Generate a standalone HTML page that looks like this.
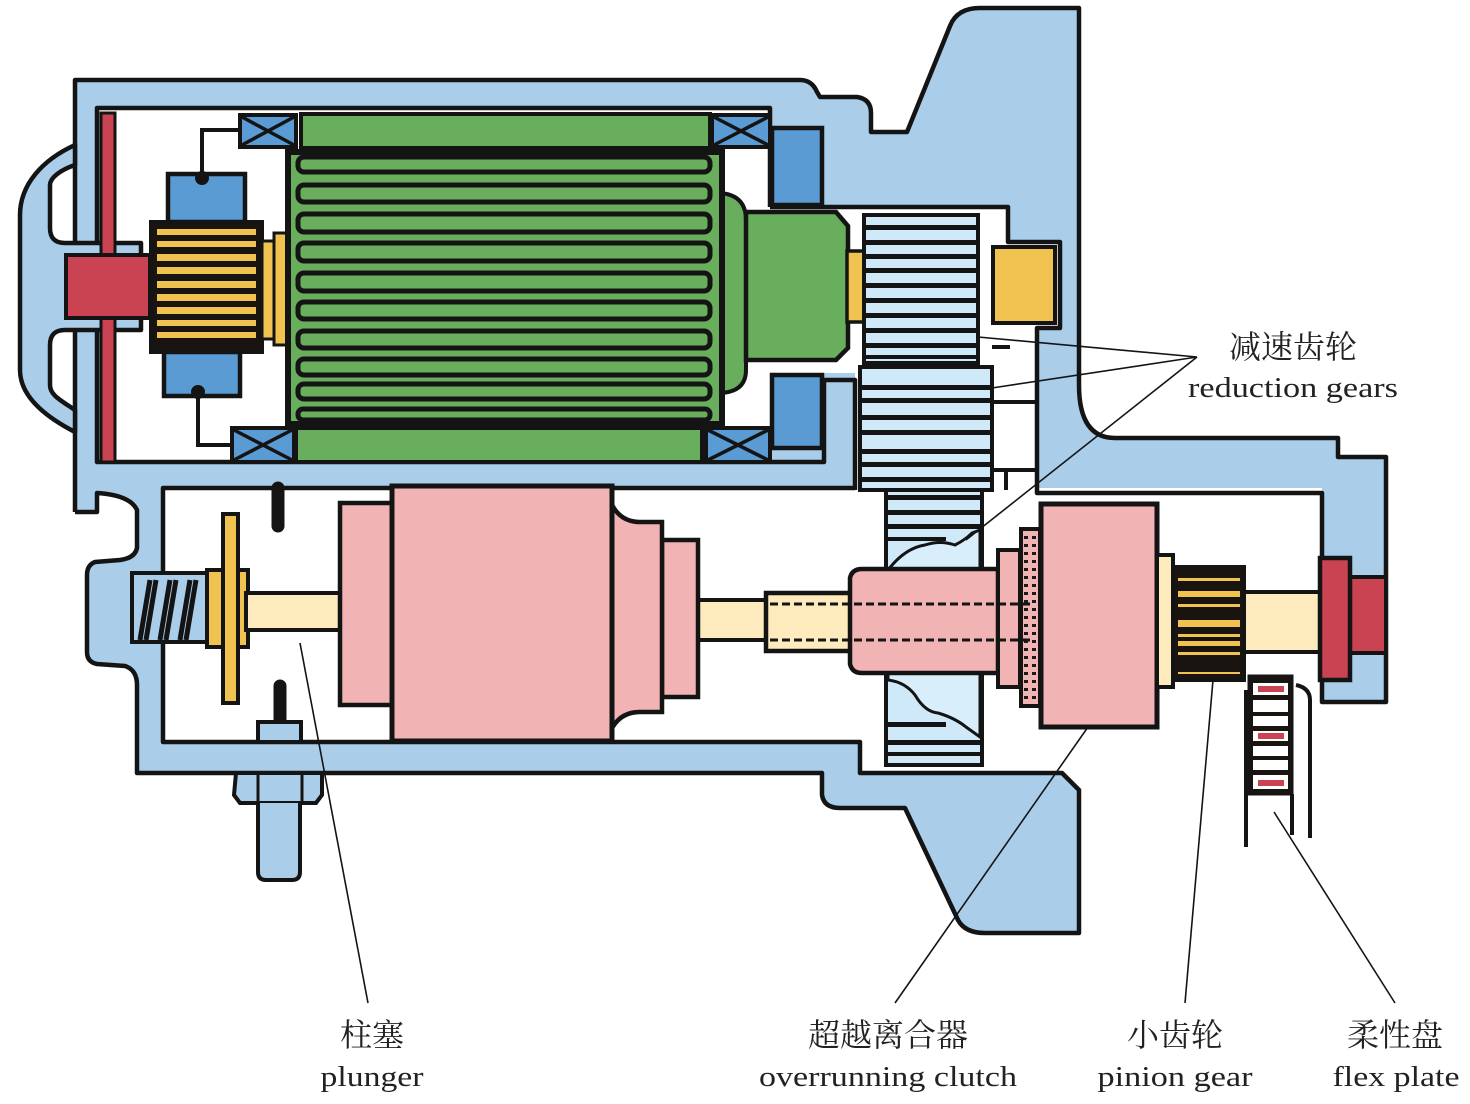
<!DOCTYPE html>
<html><head><meta charset="utf-8"><style>
html,body{margin:0;padding:0;background:#fff}
svg{display:block}
.t{font-family:"Liberation Serif","Noto Serif CJK SC",serif;fill:#222}
</style></head><body>
<svg width="1470" height="1104" viewBox="0 0 1470 1104" xmlns="http://www.w3.org/2000/svg">
<defs>
<pattern id="hatch" width="8" height="8" patternUnits="userSpaceOnUse">
<rect width="8" height="8" fill="#f1b3b3"/><rect x="0" y="0" width="4" height="3" fill="#1a1a1a"/>
</pattern>
</defs>
<path d="M75,80 L800,80 Q812,80 817,92 L820,97 L857,97 Q871,99 871,113 L871,132 L907,132 L950,26 Q957,8 980,8 L1079,8 L1079,385 Q1079,438 1115,438 L1338,438 L1338,457 L1386,457 L1386,702 L1322,702 L1322,493 L97,493 L97,512 L75,512 Z" fill="#aacdea"/>
<path d="M97,488 L860,488 L860,773 L1062,773 L1079,790 L1079,933 L985,933 Q965,933 958,920 L905,808 L840,808 Q824,808 822,795 L822,773 L137,773 L137,685 Q137,670 125,666 L97,664 Q87,662 87,652 L87,575 Q87,565 95,562 L120,560 Q135,558 137,548 L137,510 Q130,495 97,493 Z" fill="#aacdea"/>
<rect x="97" y="108" width="673" height="354" fill="#fff"/>
<rect x="770" y="207" width="85" height="166" fill="#fff"/>
<path d="M855,207 L1008,207 L1008,242 L1060,242 L1060,328 L1037,328 L1037,493 L855,493 Z" fill="#fff"/>
<rect x="163" y="488" width="697" height="254" fill="#fff"/>
<rect x="860" y="488" width="462" height="285" fill="#fff"/>
<g fill="none" stroke="#141414" stroke-width="4.5" stroke-linejoin="round">
<path d="M75,512 L75,80 L800,80 Q812,80 817,92 L820,97 L857,97 Q871,99 871,113 L871,132 L907,132 L950,26 Q957,8 980,8 L1079,8 L1079,385 Q1079,438 1115,438 L1338,438 L1338,457 L1386,457 L1386,702 L1322,702 L1322,493 L1037,493 L1037,328 L1060,328 L1060,242 L1008,242 L1008,207 L770,207"/>
<path d="M770,207 L770,108 L97,108 L97,462 L824,462 L824,380 L855,380 L855,490"/>
<path d="M75,512 L97,512 L97,493 Q130,495 137,510 L137,548 Q135,558 120,560 L95,562 Q87,565 87,575 L87,652 Q87,662 97,664 L125,666 Q137,670 137,685 L137,773 L822,773 L822,795 Q824,808 840,808 L905,808 L958,920 Q965,933 985,933 L1079,933 L1079,790 L1062,773 L860,773 L860,742 L163,742 L163,488 L855,488"/>
</g>
<!-- dark blue blocks right of motor -->
<rect x="772" y="128" width="50" height="77" fill="#5a9bd3" stroke="#141414" stroke-width="4.5"/>
<rect x="772" y="375" width="50" height="73" fill="#5a9bd3" stroke="#141414" stroke-width="4.5"/>
<path d="M75,145 C42,160 20,185 20,215 L20,370 C20,395 42,415 75,432 L75,410 C60,400 50,395 50,385 L50,345 C50,335 55,330 65,330 L141,330 L141,243 L65,243 C55,243 50,238 50,228 L50,185 C50,178 60,170 75,165 Z" fill="#aacdea" stroke="#141414" stroke-width="4.5" stroke-linejoin="round"/>
<rect x="101" y="113" width="14" height="349" fill="#c94352" stroke="#141414" stroke-width="3"/>
<rect x="66" y="255" width="84" height="63" fill="#c94352" stroke="#141414" stroke-width="4"/>
<g fill="none" stroke="#141414" stroke-width="4">
<path d="M202,178 L202,130 L240,130"/><path d="M198,392 L198,445 L232,445"/>
</g>
<rect x="168" y="174" width="77" height="48" fill="#5a9bd3" stroke="#141414" stroke-width="4.5"/>
<rect x="164" y="352" width="76" height="44" fill="#5a9bd3" stroke="#141414" stroke-width="4.5"/>
<circle cx="202" cy="178" r="7" fill="#141414"/><circle cx="198" cy="392" r="7" fill="#141414"/>
<rect x="151" y="222" width="111" height="130" fill="#1a1410" stroke="#141414" stroke-width="4"/>
<g fill="#f0c350">
<rect x="157" y="229" width="99" height="6"/><rect x="157" y="241" width="99" height="6"/><rect x="157" y="254" width="99" height="7"/><rect x="157" y="267" width="99" height="7"/><rect x="157" y="281" width="99" height="7"/><rect x="157" y="294" width="99" height="7"/><rect x="157" y="307" width="99" height="7"/><rect x="157" y="320" width="99" height="6"/><rect x="157" y="332" width="99" height="6"/>
</g>
<rect x="262" y="241" width="12" height="98" fill="#f0c350" stroke="#141414" stroke-width="3"/>
<rect x="274" y="233" width="13" height="112" fill="#f0c350" stroke="#141414" stroke-width="3"/>
<g stroke="#141414" stroke-width="4" fill="#5a9bd3">
<rect x="240" y="115" width="56" height="32"/><rect x="232" y="428" width="62" height="34"/>
<rect x="712" y="115" width="58" height="32"/><rect x="706" y="428" width="64" height="34"/>
</g>
<g stroke="#141414" stroke-width="3.5">
<path d="M242,117 L294,145 M294,117 L242,145"/><path d="M234,430 L292,460 M292,430 L234,460"/>
<path d="M714,117 L768,145 M768,117 L714,145"/><path d="M708,430 L768,460 M768,430 L708,460"/>
</g>
<rect x="301" y="114" width="409" height="34" fill="#68ae5c" stroke="#141414" stroke-width="4"/>
<rect x="296" y="428" width="406" height="34" fill="#68ae5c" stroke="#141414" stroke-width="4"/>
<path d="M720,193 Q746,195 746,220 L746,370 Q746,392 720,393 Z" fill="#68ae5c" stroke="#141414" stroke-width="4"/>
<path d="M746,212 L836,212 L848,226 L848,348 L836,360 L746,360 Z" fill="#68ae5c" stroke="#141414" stroke-width="4.5"/>
<rect x="288" y="152" width="434" height="272" fill="#68ae5c" stroke="#141414" stroke-width="6"/>
<g fill="#68ae5c" stroke="#141414" stroke-width="5">
<rect x="298" y="157" width="412" height="15" rx="6"/>
<rect x="298" y="185" width="412" height="17" rx="6"/>
<rect x="298" y="214" width="412" height="18" rx="6"/>
<rect x="298" y="243" width="412" height="18" rx="6"/>
<rect x="298" y="273" width="412" height="18" rx="6"/>
<rect x="298" y="302" width="412" height="17" rx="6"/>
<rect x="298" y="331" width="412" height="17" rx="6"/>
<rect x="298" y="359" width="412" height="16" rx="6"/>
<rect x="298" y="384" width="412" height="15" rx="6"/>
<rect x="298" y="409" width="412" height="11" rx="5"/>
</g>
<rect x="847" y="251" width="18" height="71" fill="#f0c350" stroke="#141414" stroke-width="3.5"/>
<rect x="993" y="247" width="62" height="76" fill="#f0c350" stroke="#141414" stroke-width="4"/>
<g stroke="#141414" stroke-width="4">
<path d="M992,347 L1010,347 M992,402 L1037,402 M992,470 L1037,470 M1006,470 L1006,490"/>
</g>
<rect x="864" y="215" width="114" height="148" fill="#cfe9f8" stroke="#141414" stroke-width="4"/>
<g fill="#141414">
<rect x="864" y="225" width="114" height="5"/><rect x="864" y="240" width="114" height="5"/><rect x="864" y="254" width="114" height="5"/><rect x="864" y="268" width="114" height="5"/><rect x="864" y="283" width="114" height="5"/><rect x="864" y="298" width="114" height="5"/><rect x="864" y="313" width="114" height="5"/><rect x="864" y="328" width="114" height="5"/><rect x="864" y="343" width="114" height="5"/><rect x="864" y="355" width="114" height="4"/>
</g>
<rect x="886" y="488" width="96" height="277" fill="#cfe9f8" stroke="#141414" stroke-width="4"/>
<g fill="#141414">
<rect x="886" y="495" width="96" height="5"/><rect x="886" y="510" width="96" height="5"/><rect x="886" y="524" width="96" height="5"/><rect x="886" y="537" width="60" height="4"/>
<rect x="886" y="722" width="60" height="5"/><rect x="886" y="740" width="96" height="5"/><rect x="886" y="752" width="96" height="4"/>
</g>
<path d="M888,570 Q905,548 925,545 Q940,540 955,545 Q965,540 972,533 L980,530 L980,570 Z" fill="#d8effb" stroke="#141414" stroke-width="3"/>
<path d="M888,680 Q905,682 915,695 Q925,712 938,713 Q955,718 966,727 L980,737 L980,672 L888,672 Z" fill="#d8effb" stroke="#141414" stroke-width="3"/>
<rect x="860" y="367" width="132" height="123" fill="#cfe9f8" stroke="#141414" stroke-width="4"/>
<g fill="#141414">
<rect x="860" y="385" width="132" height="5"/><rect x="860" y="398" width="132" height="5"/><rect x="860" y="415" width="132" height="5"/><rect x="860" y="430" width="132" height="5"/><rect x="860" y="449" width="132" height="5"/><rect x="860" y="462" width="132" height="5"/><rect x="860" y="477" width="132" height="5"/>
</g>
<rect x="132" y="573" width="76" height="69" fill="#aacdea" stroke="#141414" stroke-width="4"/>
<path d="M140,640 L150,580 M146,640 L156,580 M160,640 L170,580 M166,640 L176,580 M180,640 L190,580 M186,640 L196,580" stroke="#141414" stroke-width="5"/>
<rect x="207" y="570" width="41" height="77" fill="#f0c350" stroke="#141414" stroke-width="4"/>
<rect x="223" y="514" width="15" height="189" fill="#f0c350" stroke="#141414" stroke-width="4"/>
<rect x="246" y="593" width="96" height="37" fill="#fdebbd" stroke="#141414" stroke-width="4"/>
<path d="M278,488 L278,526" stroke="#141414" stroke-width="13" stroke-linecap="round"/>
<path d="M280,686 L280,728" stroke="#141414" stroke-width="13" stroke-linecap="round"/>
<rect x="258" y="722" width="43" height="20" fill="#aacdea" stroke="#141414" stroke-width="4"/>
<path d="M236,773 L322,773 L322,795 L316,803 L240,803 L234,795 Z" fill="#aacdea" stroke="#141414" stroke-width="4"/>
<path d="M258,773 L258,803 M302,773 L302,803" stroke="#141414" stroke-width="3"/>
<path d="M258,803 L258,872 Q258,880 266,880 L292,880 Q300,880 300,872 L300,803" fill="#aacdea" stroke="#141414" stroke-width="4"/>
<rect x="340" y="503" width="52" height="202" fill="#f1b3b3" stroke="#141414" stroke-width="4.5"/>
<rect x="696" y="600" width="72" height="40" fill="#fdebbd" stroke="#141414" stroke-width="4"/>
<rect x="662" y="540" width="36" height="157" fill="#f1b3b3" stroke="#141414" stroke-width="4.5"/>
<path d="M611,503 Q620,522 640,522 L662,522 L662,712 L640,712 Q620,712 611,730 Z" fill="#f1b3b3" stroke="#141414" stroke-width="4.5"/>
<rect x="392" y="486" width="220" height="255" fill="#f1b3b3" stroke="#141414" stroke-width="5"/>
<rect x="766" y="593" width="90" height="58" fill="#fdebbd" stroke="#141414" stroke-width="4.5"/>
<path d="M850,578 Q852,569 862,569 L998,569 L998,673 L862,673 Q852,673 850,664 Z" fill="#f1b3b3" stroke="#141414" stroke-width="4.5"/>
<path d="M998,550 L1020,550 L1020,687 L998,687 Z" fill="#f1b3b3" stroke="#141414" stroke-width="4"/>
<rect x="1021" y="529" width="19" height="177" fill="url(#hatch)" stroke="#141414" stroke-width="4"/>
<path d="M770,604 L1030,604 M770,640 L1030,640" stroke="#141414" stroke-width="3" stroke-dasharray="8,4"/>
<rect x="1041" y="504" width="116" height="223" fill="#f1b3b3" stroke="#141414" stroke-width="5"/>
<rect x="1157" y="555" width="16" height="132" fill="#fdebbd" stroke="#141414" stroke-width="4"/>
<rect x="1173" y="567" width="71" height="113" fill="#1a1410" stroke="#141414" stroke-width="4"/>
<g fill="#f0c350">
<rect x="1178" y="578" width="62" height="3"/><rect x="1178" y="591" width="62" height="6"/><rect x="1178" y="604" width="62" height="3"/><rect x="1178" y="620" width="62" height="7"/><rect x="1178" y="634" width="62" height="3"/><rect x="1178" y="641" width="62" height="5"/><rect x="1178" y="652" width="62" height="3"/><rect x="1178" y="672" width="62" height="2"/>
</g>
<rect x="1244" y="592" width="76" height="60" fill="#fdebbd" stroke="#141414" stroke-width="4"/>
<rect x="1348" y="577" width="38" height="76" fill="#c94352" stroke="#141414" stroke-width="4"/>
<rect x="1320" y="558" width="30" height="122" fill="#c94352" stroke="#141414" stroke-width="4.5"/>
<rect x="1249" y="676" width="43" height="118" fill="#1a1410" stroke="#141414" stroke-width="3"/>
<g fill="#fff">
<rect x="1253" y="683" width="35" height="12"/><rect x="1253" y="700" width="35" height="12"/><rect x="1253" y="716" width="35" height="10"/><rect x="1253" y="731" width="35" height="10"/><rect x="1253" y="746" width="35" height="10"/><rect x="1253" y="760" width="35" height="10"/><rect x="1253" y="775" width="35" height="14"/>
</g>
<g fill="#c94352"><rect x="1258" y="686" width="26" height="6"/><rect x="1258" y="733" width="26" height="6"/><rect x="1258" y="780" width="26" height="6"/></g>
<path d="M1246,690 L1246,847 M1292,794 L1292,835 M1296,685 Q1310,688 1310,700 L1310,838" fill="none" stroke="#141414" stroke-width="4"/>
<g stroke="#141414" stroke-width="1.6" fill="none">
<path d="M1197,357 L978,337 M1197,357 L992,388 M1197,357 L966,540"/>
<path d="M300,643 L368,1003"/>
<path d="M1088,727 L895,1003"/>
<path d="M1213,680 L1185,1003"/>
<path d="M1274,812 L1395,1003"/>
</g>
<text class="t" x="1293" y="358" font-size="32" text-anchor="middle">减速齿轮</text>
<text class="t" x="1293" y="397" font-size="29" text-anchor="middle" textLength="210" lengthAdjust="spacingAndGlyphs">reduction gears</text>
<text class="t" x="372" y="1046" font-size="32" text-anchor="middle">柱塞</text>
<text class="t" x="372" y="1086" font-size="29" text-anchor="middle" textLength="103" lengthAdjust="spacingAndGlyphs">plunger</text>
<text class="t" x="888" y="1046" font-size="32" text-anchor="middle">超越离合器</text>
<text class="t" x="888" y="1086" font-size="29" text-anchor="middle" textLength="258" lengthAdjust="spacingAndGlyphs">overrunning clutch</text>
<text class="t" x="1175" y="1046" font-size="32" text-anchor="middle">小齿轮</text>
<text class="t" x="1175" y="1086" font-size="29" text-anchor="middle" textLength="155" lengthAdjust="spacingAndGlyphs">pinion gear</text>
<text class="t" x="1395" y="1046" font-size="32" text-anchor="middle">柔性盘</text>
<text class="t" x="1396" y="1086" font-size="29" text-anchor="middle" textLength="127" lengthAdjust="spacingAndGlyphs">flex plate</text>
</svg>
</body></html>
